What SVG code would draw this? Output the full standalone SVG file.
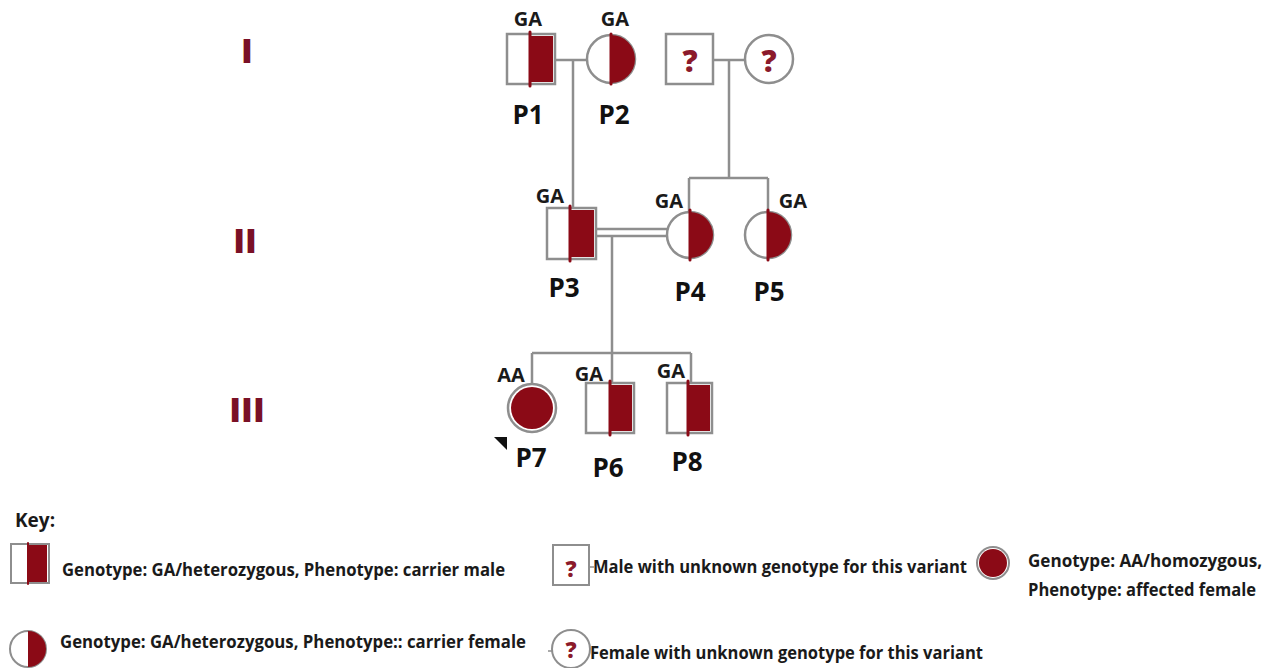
<svg xmlns="http://www.w3.org/2000/svg" width="1277" height="668" viewBox="0 0 1277 668">
<style>
.sym{fill:#fff;stroke:#8e8e8e;stroke-width:2.5}
.red{fill:#8b0a16}
.split{stroke:#8b0a16;stroke-width:3;stroke-linecap:round}
.ln{fill:none;stroke:#8e8e8e;stroke-width:2.5}
.gt{font-family:"Open Sans","Liberation Sans",sans-serif;font-weight:700;font-size:20px;fill:#1a1a1a;text-anchor:middle}
.id{font-family:"Open Sans","Liberation Sans",sans-serif;font-weight:700;font-size:26px;fill:#111;text-anchor:middle}
.gen{font-family:"Open Sans","Liberation Sans",sans-serif;font-weight:800;font-size:34px;fill:#7a1026;text-anchor:middle}
.q{font-family:"Open Sans","Liberation Sans",sans-serif;font-weight:800;font-size:30px;fill:#8b1a2b;text-anchor:middle}
.key{font-family:"Open Sans","Liberation Sans",sans-serif;font-weight:700;font-size:18px;fill:#1a1a1a}
</style>

<g id="generations">
<text class="gen" x="247" y="63">I</text>
<text class="gen" x="245" y="253">II</text>
<text class="gen" x="247" y="422">III</text>
</g>

<g id="connectors">
<path class="ln" d="M555 60 H587"/>
<path class="ln" d="M573 60 V208"/>
<path class="ln" d="M713 60 H745"/>
<path class="ln" d="M729 60 V178"/>
<path class="ln" d="M689 178 H768"/>
<path class="ln" d="M689 178 V211"/>
<path class="ln" d="M768 178 V211"/>
<path class="ln" d="M596 229 H667"/>
<path class="ln" d="M596 236 H667"/>
<path class="ln" d="M612 236 V383"/>
<path class="ln" d="M532 353 H691"/>
<path class="ln" d="M532 353 V384"/>
<path class="ln" d="M691 353 V383"/>
</g>

<g id="P1">
<rect class="sym" x="507" y="34" width="48" height="50"/>
<rect class="red" x="530" y="36" width="23" height="46"/>
<line class="split" x1="530" y1="32" x2="530" y2="86"/>
<text class="gt" x="528" y="26">GA</text>
<text class="id" x="528" y="124">P1</text>
</g>

<g id="P2">
<circle class="sym" cx="611" cy="59" r="24"/>
<path class="red" d="M611 35 A24 24 0 0 1 611 83 Z"/>
<line class="split" x1="611" y1="34" x2="611" y2="84"/>
<text class="gt" x="615" y="26">GA</text>
<text class="id" x="614" y="124">P2</text>
</g>

<g id="U1">
<rect class="sym" x="666" y="34" width="47" height="50"/>
<text class="q" x="690" y="72">?</text>
</g>

<g id="U2">
<circle class="sym" cx="769" cy="59" r="24"/>
<text class="q" x="769" y="72">?</text>
</g>

<g id="P3">
<rect class="sym" x="547" y="208" width="49" height="51"/>
<rect class="red" x="570" y="210" width="24" height="47"/>
<line class="split" x1="570" y1="206" x2="570" y2="261"/>
<text class="gt" x="550" y="203">GA</text>
<text class="id" x="564" y="297">P3</text>
</g>

<g id="P4">
<circle class="sym" cx="690" cy="235" r="23"/>
<path class="red" d="M690 212 A23 23 0 0 1 690 258 Z"/>
<line class="split" x1="690" y1="210" x2="690" y2="260"/>
<text class="gt" x="669" y="208">GA</text>
<text class="id" x="690" y="301">P4</text>
</g>

<g id="P5">
<circle class="sym" cx="768" cy="235" r="23"/>
<path class="red" d="M768 212 A23 23 0 0 1 768 258 Z"/>
<line class="split" x1="768" y1="210" x2="768" y2="260"/>
<text class="gt" x="793" y="208">GA</text>
<text class="id" x="769" y="301">P5</text>
</g>

<g id="P7">
<circle class="sym" cx="532" cy="408" r="24"/>
<circle class="red" cx="532" cy="408" r="21"/>
<polygon points="494,437 507,437 507,450" fill="#111"/>
<text class="gt" x="511" y="382">AA</text>
<text class="id" x="531" y="467">P7</text>
</g>

<g id="P6">
<rect class="sym" x="586" y="383" width="48" height="50"/>
<rect class="red" x="610" y="385" width="22" height="46"/>
<line class="split" x1="610" y1="381" x2="610" y2="435"/>
<text class="gt" x="589" y="381">GA</text>
<text class="id" x="608" y="477">P6</text>
</g>

<g id="P8">
<rect class="sym" x="667" y="383" width="45" height="50"/>
<rect class="red" x="688" y="385" width="22" height="46"/>
<line class="split" x1="688" y1="381" x2="688" y2="435"/>
<text class="gt" x="671" y="378">GA</text>
<text class="id" x="687" y="471">P8</text>
</g>

<g id="key">
<text class="key" x="15" y="527" style="font-size:19px">Key:</text>

<rect class="sym" x="11" y="544" width="38" height="39" style="stroke-width:2"/>
<rect class="red" x="28" y="545" width="19" height="37"/>
<line class="split" x1="28" y1="543" x2="28" y2="584" style="stroke-width:2"/>
<text class="key" x="62" y="576" textLength="443" lengthAdjust="spacingAndGlyphs">Genotype: GA/heterozygous, Phenotype: carrier male</text>

<circle class="sym" cx="28" cy="649" r="18" style="stroke-width:2"/>
<path class="red" d="M28 631 A18 18 0 0 1 28 667 Z"/>
<text class="key" x="60" y="648" textLength="466" lengthAdjust="spacingAndGlyphs">Genotype: GA/heterozygous, Phenotype:: carrier female</text>

<rect class="sym" x="553" y="545" width="36" height="40" style="stroke-width:2"/>
<text class="q" x="571" y="577" style="font-size:22px">?</text>
<line class="ln" x1="589" y1="567" x2="594" y2="567" style="stroke-width:1.5"/>
<text class="key" x="593" y="573" textLength="374" lengthAdjust="spacingAndGlyphs">Male with unknown genotype for this variant</text>

<circle class="sym" cx="571" cy="649" r="19" style="stroke-width:2"/>
<line class="ln" x1="548" y1="651" x2="552" y2="651" style="stroke-width:1.5"/>
<text class="q" x="571" y="658" style="font-size:22px">?</text>
<text class="key" x="590" y="659" textLength="393" lengthAdjust="spacingAndGlyphs">Female with unknown genotype for this variant</text>

<circle class="sym" cx="993" cy="563" r="16" style="stroke-width:2"/>
<circle class="red" cx="993" cy="563" r="14"/>
<text class="key" x="1028" y="567" textLength="234" lengthAdjust="spacingAndGlyphs">Genotype: AA/homozygous,</text>
<text class="key" x="1028" y="596" textLength="228" lengthAdjust="spacingAndGlyphs">Phenotype: affected female</text>
</g>
</svg>
